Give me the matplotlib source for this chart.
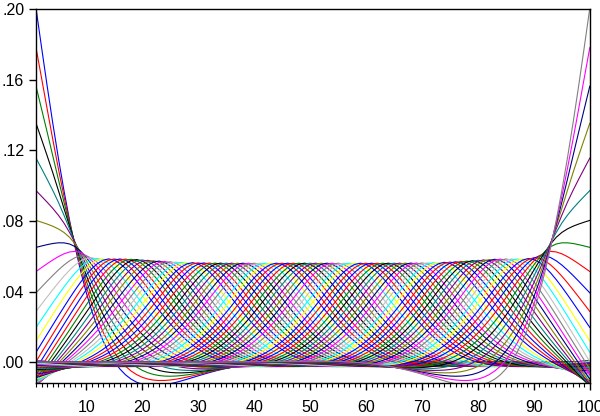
import numpy as np
import matplotlib
matplotlib.use("Agg")
import matplotlib.pyplot as plt
from matplotlib.ticker import MultipleLocator, FuncFormatter

# Chart shows the weight vectors of a Hodrick-Prescott trend filter:
# one line per target observation, weights plotted over observations 1..100.
n_obs = 100
hp_lambda = 1600.0

# EViews-style default line colours, cycled over the series
line_colors = ['#0000ff', '#ff0000', '#008000', '#000000', '#008080',
               '#800080', '#808000', '#000080', '#ff00ff', '#808080',
               '#c0c0c0', '#00ffff', '#ffff00', '#0000ff', '#ff0000']

y_ticks = [0.00, 0.04, 0.08, 0.12, 0.16, 0.20]
x_ticks = [10, 20, 30, 40, 50, 60, 70, 80, 90, 100]


def hp_weights(n, lam):
    d = np.zeros((n - 2, n))
    for i in range(n - 2):
        d[i, i:i + 3] = [1.0, -2.0, 1.0]
    return np.linalg.inv(np.eye(n) + lam * d.T @ d)


weights = hp_weights(n_obs, hp_lambda)
obs = np.arange(1, n_obs + 1)

plt.rcParams['font.family'] = ['Liberation Sans', 'DejaVu Sans']

fig = plt.figure(figsize=(6.0, 4.16), dpi=100)
ax = fig.add_axes([0.060, 0.079, 0.923, 0.899])

for j in range(n_obs):
    ax.plot(obs, weights[:, j], color=line_colors[j % len(line_colors)],
            linewidth=0.8)

ax.set_xlim(1, 100)
ax.set_ylim(-0.0119, 0.20)
ax.set_yticks(y_ticks)
ax.yaxis.set_major_formatter(FuncFormatter(lambda v, p: ('%.2f' % v)[1:] if v >= 0 else '%.2f' % v))
ax.set_xticks(x_ticks)
ax.xaxis.set_minor_locator(MultipleLocator(1))
ax.tick_params(axis='both', which='major', labelsize=11.5, direction='out', length=5, width=1)
ax.tick_params(axis='x', which='major', pad=7)
ax.tick_params(axis='x', which='minor', direction='out', length=3, width=0.8)
ax.tick_params(axis='y', right=False)
for s in ax.spines.values():
    s.set_linewidth(1.0)

fig.savefig('out.png', dpi=100)
